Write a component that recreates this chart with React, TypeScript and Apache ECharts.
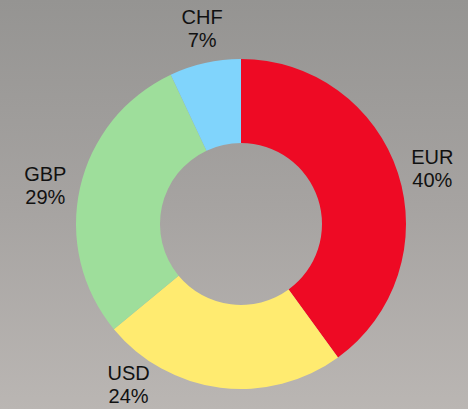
import React, { useEffect, useRef } from "react";
import * as echarts from "echarts";

const categories = ["EUR", "USD", "GBP", "CHF"];
const shares = [40, 24, 29, 7];
const colors = ["#EE0A24", "#FFEB70", "#9EDE9B", "#80D4FC"];

const W = 468;
const H = 409;
const CX = 241;
const CY = 224;
const R_IN = 81;
const R_OUT = 165;
const ANCHOR_R = 178;
const HALF_W = 22;
const HALF_H = 22;

export default function App() {
  const ref = useRef<HTMLDivElement>(null);
  useEffect(() => {
    if (!ref.current) return;
    const chart = echarts.init(ref.current, null, { renderer: "svg" });
    const total = shares.reduce((a, b) => a + b, 0);
    chart.setOption({
      animation: false,
      series: [
        {
          type: "pie",
          center: [CX, CY],
          radius: [R_IN, R_OUT],
          startAngle: 90,
          clockwise: true,
          avoidLabelOverlap: false,
          silent: true,
          itemStyle: { borderWidth: 0 },
          label: {
            show: true,
            position: "outside",
            formatter: (p: any) => `${p.name}\n${shares[p.dataIndex]}%`,
            fontSize: 20,
            lineHeight: 23,
            color: "#111",
            fontFamily: "'Liberation Sans', Arial, sans-serif",
            align: "center",
          },
          labelLine: { show: false },
          labelLayout: (params: any) => {
            const i = params.dataIndex;
            let before = 0;
            for (let k = 0; k < i; k++) before += shares[k];
            const mid = ((90 - (360 * (before + shares[i] / 2)) / total) * Math.PI) / 180;
            const c = Math.cos(mid);
            const s = Math.sin(mid);
            let ax = CX + ANCHOR_R * c;
            let ay = CY - ANCHOR_R * s;
            let x: number;
            let y: number;
            if (Math.abs(c) > Math.abs(s)) {
              x = ax + Math.sign(c) * HALF_W;
              y = ay;
            } else {
              x = ax;
              y = ay - Math.sign(s) * HALF_H;
            }
            const yMax = H - 25;
            if (y > yMax) {
              y = yMax;
              ay = yMax - HALF_H;
              const dy = ay - CY;
              const dx = Math.sqrt(Math.max(0, ANCHOR_R * ANCHOR_R - dy * dy));
              x = CX + (c < 0 ? -dx : dx);
            }
            return { x, y, align: "center", verticalAlign: "middle" };
          },
          data: categories.map((cat, i) => ({
            name: cat,
            value: shares[i],
            itemStyle: { color: colors[i] },
          })),
        },
      ],
    });
    return () => chart.dispose();
  }, []);
  return (
    <div
      ref={ref}
      style={{
        position: "fixed",
        left: 0,
        top: 0,
        width: W,
        height: H,
        background: "linear-gradient(to bottom, #959492 0%, #a6a3a1 50%, #bab6b3 100%)",
      }}
    />
  );
}
